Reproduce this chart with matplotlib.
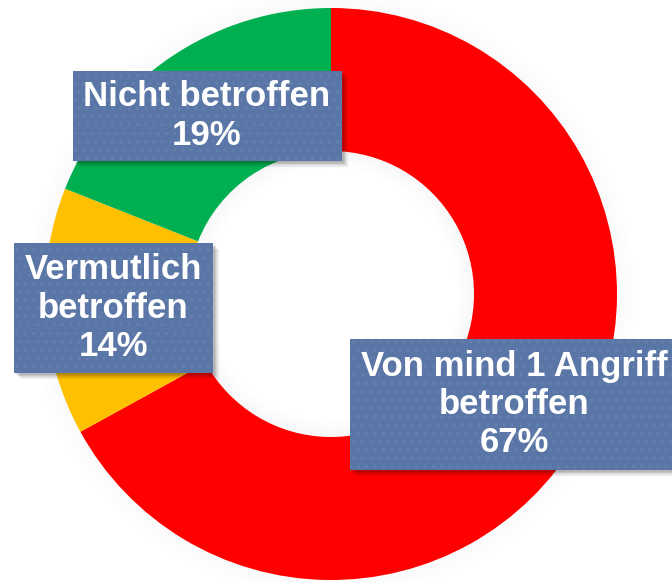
import numpy as np
import matplotlib.pyplot as plt
from matplotlib.patches import Wedge, Rectangle

plt.rcParams['font.family'] = ['Liberation Sans', 'DejaVu Sans']

# data
categories = ['Von mind 1 Angriff\nbetroffen', 'Vermutlich\nbetroffen', 'Nicht betroffen']
shares = [67, 14, 19]
colors = ['#FF0000', '#FFC000', '#00B050']

# layout in image pixels
W, H = 672, 582
CX, CY, R = 331, 294, 286
HOLE = 0.5
# label boxes: left, top, right, bottom (pixels)
BOXES = [(350, 339, 680, 470), (14, 243, 213, 373), (73, 71, 342, 161)]
BOX_TEXT_X = [514, 113, 207]


def to_data(px, py):
    return (px - CX) / R, (CY - py) / R


fig = plt.figure(figsize=(W / 100, H / 100), dpi=100)
ax = fig.add_axes([0, 0, 1, 1])
ax.set_xlim(-CX / R, (W - CX) / R)
ax.set_ylim(-(H - CY) / R, CY / R)
ax.set_aspect('equal')
ax.axis('off')

# soft outer shadow
for i in range(14):
    r = 1.0 + i * 0.005
    ax.add_patch(Wedge((0, 0), r, 0, 360, width=0.005, color='#000000',
                       alpha=0.022 * (1 - i / 14), lw=0, zorder=0))

ax.pie(shares, colors=colors, startangle=90, counterclock=False,
       radius=1.0, wedgeprops=dict(width=1 - HOLE, linewidth=0))

# inner shadow in the hole
for i in range(12):
    r = HOLE - i * 0.005
    ax.add_patch(Wedge((0, 0), r, 0, 360, width=0.005, color='#000000',
                       alpha=0.03 * (1 - i / 12), lw=0, zorder=3))

ax.set_xlim(-CX / R, (W - CX) / R)
ax.set_ylim(-(H - CY) / R, CY / R)

for cat, val, (l, t, r, b), tx in zip(categories, shares, BOXES, BOX_TEXT_X):
    x0, y0 = to_data(l, b)
    x1, y1 = to_data(r, t)
    # drop shadow
    for k in range(4):
        off = (2 + k * 1.2) / R
        ax.add_patch(Rectangle((x0 + off, y0 - off), x1 - x0, y1 - y0,
                               facecolor='#000000', alpha=0.08, lw=0, zorder=4))
    ax.add_patch(Rectangle((x0, y0), x1 - x0, y1 - y0, facecolor='#5A76A6',
                           edgecolor='#6480AF', hatch='..', lw=0, zorder=5))
    cx, _ = to_data(tx, 0)
    ax.text(cx, (y0 + y1) / 2, f'{cat}\n{val}%', ha='center', va='center',
            color='white', fontsize=25, fontweight='bold', linespacing=1.2,
            zorder=6)

fig.savefig('out.png', dpi=100)
